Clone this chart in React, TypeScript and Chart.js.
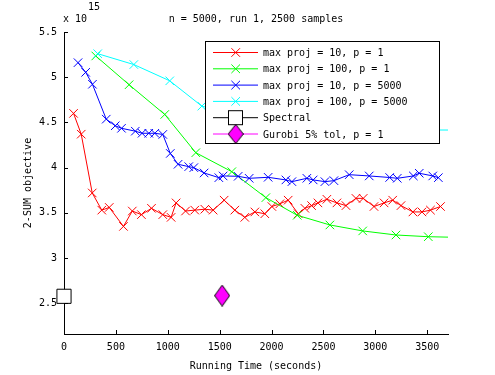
import React, { useEffect, useRef } from "react";
import { Chart, registerables } from "chart.js";

Chart.register(...registerables);

const TITLE = "n = 5000, run 1, 2500 samples";
const X_LABEL = "Running Time (seconds)";
const Y_LABEL = "2-SUM objective";
const Y_MULT = "x 10";
const Y_EXP = "15";

const X_TICKS = [0, 500, 1000, 1500, 2000, 2500, 3000, 3500];
const Y_TICKS = [2.5, 3, 3.5, 4, 4.5, 5, 5.5];
const X_MIN = 0;
const X_MAX = 3700;
const Y_MIN = 2.16;
const Y_MAX = 5.5;

const LABELS = [
  "max proj = 10, p = 1",
  "max proj = 100, p = 1",
  "max proj = 10, p = 5000",
  "max proj = 100, p = 5000",
  "Spectral",
  "Gurobi 5% tol, p = 1",
];
const COLORS = ["#ff0000", "#00ff00", "#0000ff", "#00ffff", "#000000", "#ff00ff"];

// max proj = 10, p = 1
const redTime = [92, 166, 272, 364, 436, 573, 658, 746, 843, 952, 1032, 1080, 1171, 1260, 1357, 1437, 1543, 1646, 1742, 1839, 1935, 2003, 2080, 2160, 2257, 2321, 2386, 2447, 2533, 2630, 2717, 2813, 2883, 2987, 3084, 3167, 3247, 3362, 3449, 3531, 3628];
const redObj = [4.60, 4.37, 3.72, 3.53, 3.56, 3.35, 3.52, 3.48, 3.55, 3.48, 3.45, 3.61, 3.52, 3.53, 3.54, 3.53, 3.64, 3.53, 3.45, 3.51, 3.49, 3.57, 3.60, 3.64, 3.49, 3.55, 3.58, 3.61, 3.65, 3.61, 3.58, 3.66, 3.66, 3.57, 3.61, 3.64, 3.58, 3.51, 3.51, 3.53, 3.57];

// max proj = 100, p = 1
const greenTime = [306, 627, 971, 1270, 1617, 1945, 2247, 2562, 2878, 3199, 3510, 3825];
const greenObj = [5.235, 4.917, 4.588, 4.165, 3.955, 3.668, 3.473, 3.366, 3.300, 3.255, 3.236, 3.228];

// max proj = 10, p = 5000
const blueTime = [135, 209, 274, 407, 494, 554, 687, 752, 817, 875, 952, 1024, 1099, 1202, 1251, 1350, 1492, 1533, 1678, 1784, 1967, 2138, 2196, 2340, 2401, 2514, 2601, 2748, 2941, 3138, 3211, 3366, 3423, 3553, 3607];
const blueObj = [5.161, 5.054, 4.922, 4.536, 4.463, 4.435, 4.403, 4.380, 4.380, 4.380, 4.367, 4.157, 4.037, 4.011, 4.000, 3.941, 3.889, 3.908, 3.904, 3.882, 3.893, 3.864, 3.845, 3.882, 3.864, 3.845, 3.856, 3.922, 3.908, 3.891, 3.882, 3.908, 3.938, 3.908, 3.889];

// max proj = 100, p = 5000
const cyanTime = [325, 673, 1019, 1328, 1656, 1984, 2312, 2640, 2967, 3295, 3950];
const cyanObj = [5.26, 5.14, 4.96, 4.68, 4.58, 4.51, 4.47, 4.45, 4.43, 4.417, 4.415];

// Spectral
const spectralTime = [0];
const spectralObj = [2.577];

// Gurobi 5% tol, p = 1
const gurobiTime = [1524];
const gurobiObj = [2.585];

const FONT = "DejaVu Sans Mono";

function makeDiamond(w: number, h: number): HTMLCanvasElement {
  const c = document.createElement("canvas");
  c.width = w;
  c.height = h;
  const g = c.getContext("2d")!;
  g.beginPath();
  g.moveTo(w / 2, 0.5);
  g.lineTo(w - 0.5, h / 2);
  g.lineTo(w / 2, h - 0.5);
  g.lineTo(0.5, h / 2);
  g.closePath();
  g.fillStyle = "#ff00ff";
  g.fill();
  g.strokeStyle = "#000";
  g.lineWidth = 1;
  g.stroke();
  return c;
}

const mkXY = (xs: number[], ys: number[]) => xs.map((x, i) => ({ x, y: ys[i] }));

export default function App() {
  const ref = useRef<HTMLCanvasElement | null>(null);

  useEffect(() => {
    const canvas = ref.current;
    if (!canvas) return;
    const diamond = makeDiamond(16, 22);

    const overlay = {
      id: "matlabOverlay",
      afterDatasetsDraw(chart: any) {
        const { ctx, chartArea: ca, scales } = chart;
        ctx.save();
        // inward ticks
        ctx.strokeStyle = "#000";
        ctx.lineWidth = 1;
        ctx.beginPath();
        for (const v of X_TICKS) {
          const px = Math.round(scales.x.getPixelForValue(v)) + 0.5;
          ctx.moveTo(px, ca.bottom);
          ctx.lineTo(px, ca.bottom - 4);
        }
        for (const v of Y_TICKS) {
          const py = Math.round(scales.y.getPixelForValue(v)) + 0.5;
          ctx.moveTo(ca.left, py);
          ctx.lineTo(ca.left + 4, py);
        }
        ctx.stroke();

        // exponent label
        ctx.fillStyle = "#000";
        ctx.font = `10px "${FONT}"`;
        ctx.textAlign = "left";
        ctx.textBaseline = "middle";
        ctx.fillText(Y_MULT, ca.left - 1, 19);
        ctx.fillText(Y_EXP, ca.left + 24, 7.5);

        // legend
        const lx = 205.5, ly = 41.5, lw = 234, lh = 102;
        ctx.fillStyle = "#fff";
        ctx.fillRect(lx, ly, lw, lh);
        ctx.strokeStyle = "#000";
        ctx.strokeRect(lx, ly, lw, lh);
        for (let i = 0; i < LABELS.length; i++) {
          const cy = 52.5 + i * 16.3;
          const color = COLORS[i];
          ctx.strokeStyle = color;
          ctx.lineWidth = 1;
          ctx.beginPath();
          ctx.moveTo(213, cy);
          ctx.lineTo(258, cy);
          ctx.stroke();
          const cx = 235.7;
          if (i < 4) {
            const d = 4.3;
            ctx.beginPath();
            ctx.moveTo(cx - d, cy - d);
            ctx.lineTo(cx + d, cy + d);
            ctx.moveTo(cx - d, cy + d);
            ctx.lineTo(cx + d, cy - d);
            ctx.stroke();
          } else if (i === 4) {
            ctx.fillStyle = "#fff";
            ctx.fillRect(228.5, cy - 7, 14, 14);
            ctx.strokeStyle = "#000";
            ctx.strokeRect(228.5, cy - 7, 14, 14);
          } else {
            ctx.drawImage(diamond, cx - 8, cy - 10, 16, 20);
          }
          ctx.fillStyle = "#000";
          ctx.textAlign = "left";
          ctx.textBaseline = "middle";
          ctx.fillText(LABELS[i], 263, cy + 1);
        }
        ctx.restore();
      },
    };

    const lineSeries = (i: number, xs: number[], ys: number[]) => ({
      label: LABELS[i],
      data: mkXY(xs, ys),
      borderColor: COLORS[i],
      backgroundColor: COLORS[i],
      pointBorderColor: COLORS[i],
      pointStyle: "crossRot",
      pointRadius: 6,
      pointBorderWidth: 1,
      borderWidth: 1,
      tension: 0,
      fill: false,
      order: -i,
    });

    const chart = new Chart(canvas, {
      type: "line",
      data: {
        datasets: [
          lineSeries(0, redTime, redObj),
          lineSeries(1, greenTime, greenObj),
          lineSeries(2, blueTime, blueObj),
          lineSeries(3, cyanTime, cyanObj),
          {
            label: LABELS[4],
            data: mkXY(spectralTime, spectralObj),
            showLine: false,
            pointStyle: "rect",
            pointRadius: 10,
            pointBackgroundColor: "#fff",
            pointBorderColor: "#000",
            pointBorderWidth: 1,
            clip: false,
            order: -4,
          },
          {
            label: LABELS[5],
            data: mkXY(gurobiTime, gurobiObj),
            showLine: false,
            pointStyle: diamond,
            pointRadius: 10,
            clip: false,
            order: -5,
          },
        ] as any,
      },
      options: {
        animation: false,
        responsive: false,
        devicePixelRatio: 1,
        layout: { padding: { left: 0, right: 47, top: 0, bottom: 0 } },
        font: { family: FONT, size: 10 },
        plugins: {
          legend: { display: false },
          tooltip: { enabled: false },
          title: {
            display: true,
            text: TITLE,
            fullSize: false,
            color: "#000",
            font: { family: FONT, size: 10, weight: "normal" },
            padding: { top: 13, bottom: 7 },
          },
        },
        scales: {
          x: {
            type: "linear",
            min: X_MIN,
            max: X_MAX,
            grid: { display: false, drawTicks: false },
            border: { display: true, color: "#000", width: 1 },
            afterBuildTicks: (s: any) => {
              s.ticks = X_TICKS.map((v) => ({ value: v }));
            },
            afterFit: (s: any) => {
              s.height = 41;
            },
            ticks: {
              color: "#000",
              padding: 7,
              maxRotation: 0,
              font: { family: FONT, size: 10 },
              callback: (v: any) => String(v),
            },
            title: {
              display: true,
              text: X_LABEL,
              color: "#000",
              font: { family: FONT, size: 10 },
              padding: { top: 0, bottom: 3 },
            },
          },
          y: {
            type: "linear",
            min: Y_MIN,
            max: Y_MAX,
            grid: { display: false, drawTicks: false },
            border: { display: true, color: "#000", width: 1 },
            afterBuildTicks: (s: any) => {
              s.ticks = Y_TICKS.map((v) => ({ value: v }));
            },
            afterFit: (s: any) => {
              s.width = 64;
            },
            ticks: {
              color: "#000",
              padding: 7,
              font: { family: FONT, size: 10 },
              callback: (v: any) => String(v),
            },
            title: {
              display: true,
              text: Y_LABEL,
              color: "#000",
              font: { family: FONT, size: 10 },
              padding: { top: 22, bottom: 0 },
            },
          },
        },
      } as any,
      plugins: [overlay],
    });

    return () => {
      chart.destroy();
    };
  }, []);

  return (
    <div style={{ position: "fixed", left: 0, top: 0, width: 495, height: 375, background: "#fff" }}>
      <canvas ref={ref} width={495} height={375} style={{ display: "block", width: 495, height: 375 }} />
    </div>
  );
}
